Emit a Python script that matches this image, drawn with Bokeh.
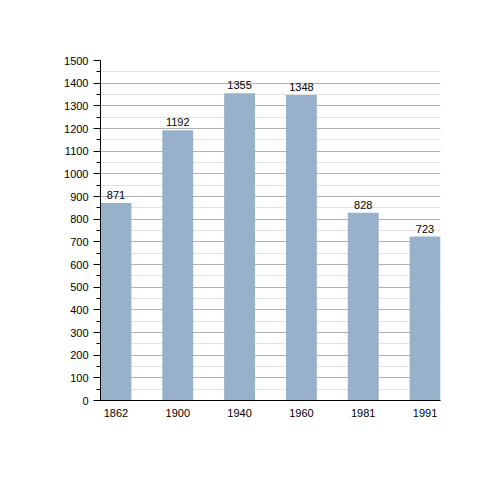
from bokeh.plotting import figure
from bokeh.models import Range1d, SingleIntervalTicker, FixedTicker, ColumnDataSource
from bokeh.core.properties import value
from bokeh.embed import file_html
from bokeh.resources import INLINE

# Population by census year
years = ["1862", "1900", "1940", "1960", "1981", "1991"]
population = [871, 1192, 1355, 1348, 828, 723]

positions = list(range(len(years)))
source = ColumnDataSource(dict(
    x=positions,
    y=population,
    label=[str(v) for v in population],
))

FONT = "Liberation Sans"

p = figure(
    width=500, height=500,
    x_range=Range1d(-0.25, len(years) - 0.75),
    y_range=Range1d(0, 1500),
    output_backend="svg",
    toolbar_location=None,
    min_border_left=100, min_border_right=60,
    min_border_top=60, min_border_bottom=100,
)
p.outline_line_color = None
p.background_fill_color = "white"

# Horizontal grid: darker every 100, lighter halfway lines
p.xgrid.grid_line_color = None
p.ygrid.grid_line_color = "#b0b0b0"
p.ygrid.minor_grid_line_color = "#e2e2e2"

p.yaxis.ticker = SingleIntervalTicker(interval=100, num_minor_ticks=2)
p.yaxis.axis_line_color = "black"
p.yaxis.major_tick_line_color = "black"
p.yaxis.minor_tick_line_color = "black"
p.yaxis.major_tick_out = 7
p.yaxis.major_tick_in = 0
p.yaxis.minor_tick_out = 4
p.yaxis.minor_tick_in = 0
p.yaxis.major_label_text_font = FONT
p.yaxis.major_label_text_font_size = "11px"
p.yaxis.major_label_text_color = "black"
p.yaxis.major_label_standoff = 5

p.xaxis.ticker = FixedTicker(ticks=positions)
p.xaxis.major_label_overrides = {i: y for i, y in enumerate(years)}
p.xaxis.axis_line_color = "black"
p.xaxis.major_tick_line_color = None
p.xaxis.minor_tick_line_color = None
p.xaxis.major_label_text_font = FONT
p.xaxis.major_label_text_font_size = "11px"
p.xaxis.major_label_text_color = "black"
p.xaxis.major_label_standoff = 2

p.vbar(x="x", top="y", width=0.5, bottom=0, source=source,
       fill_color="#98b1cb", line_color=None)

p.text(x="x", y="y", text="label", source=source,
       text_align="center", text_baseline="bottom", y_offset=-4,
       text_font=value(FONT), text_font_size="11px", text_color="black")

open("out.html", "w").write(file_html(p, INLINE))
